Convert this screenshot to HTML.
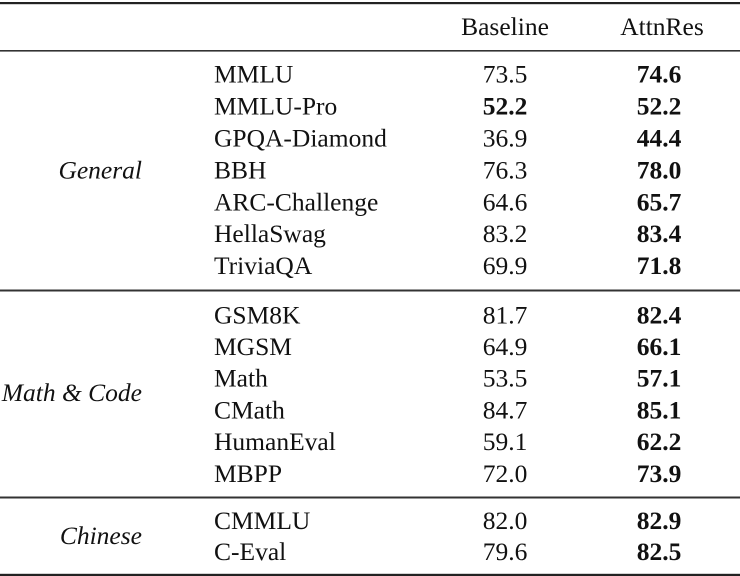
<!DOCTYPE html>
<html><head><meta charset="utf-8"><style>
html,body{margin:0;padding:0;background:#fff;}
svg{display:block;}
text{font-family:"Liberation Serif","Times New Roman",serif;font-size:25.5px;fill:#111;}
.b{font-weight:bold;}
.i{font-style:italic;}
.c{text-anchor:middle;}
.r{text-anchor:end;}
</style></head><body>
<svg width="740" height="576" viewBox="0 0 740 576" xmlns="http://www.w3.org/2000/svg">
<rect x="0" y="2" width="740" height="2.2" fill="#222"/>
<rect x="0" y="50" width="740" height="1.6" fill="#333"/>
<rect x="0" y="289.5" width="740" height="2" fill="#333"/>
<rect x="0" y="496.5" width="740" height="2" fill="#333"/>
<rect x="0" y="573.8" width="740" height="2.2" fill="#222"/>

<text x="505" y="35" class="c">Baseline</text>
<text x="662" y="35" class="c">AttnRes</text>

<text x="142" y="178.4" class="r i">General</text>
<text x="142" y="401" class="r i">Math &amp; Code</text>
<text x="142" y="544" class="r i">Chinese</text>

<text x="214" y="82.7">MMLU</text><text x="505" y="82.7" class="c">73.5</text><text x="659" y="82.7" class="c b">74.6</text>
<text x="214" y="114.6">MMLU-Pro</text><text x="505" y="114.6" class="c b">52.2</text><text x="659" y="114.6" class="c b">52.2</text>
<text x="214" y="146.5">GPQA-Diamond</text><text x="505" y="146.5" class="c">36.9</text><text x="659" y="146.5" class="c b">44.4</text>
<text x="214" y="178.4">BBH</text><text x="505" y="178.4" class="c">76.3</text><text x="659" y="178.4" class="c b">78.0</text>
<text x="214" y="210.3">ARC-Challenge</text><text x="505" y="210.3" class="c">64.6</text><text x="659" y="210.3" class="c b">65.7</text>
<text x="214" y="242.2">HellaSwag</text><text x="505" y="242.2" class="c">83.2</text><text x="659" y="242.2" class="c b">83.4</text>
<text x="214" y="274.1">TriviaQA</text><text x="505" y="274.1" class="c">69.9</text><text x="659" y="274.1" class="c b">71.8</text>

<text x="214" y="323.3">GSM8K</text><text x="505" y="323.3" class="c">81.7</text><text x="659" y="323.3" class="c b">82.4</text>
<text x="214" y="355">MGSM</text><text x="505" y="355" class="c">64.9</text><text x="659" y="355" class="c b">66.1</text>
<text x="214" y="386.7">Math</text><text x="505" y="386.7" class="c">53.5</text><text x="659" y="386.7" class="c b">57.1</text>
<text x="214" y="418.4">CMath</text><text x="505" y="418.4" class="c">84.7</text><text x="659" y="418.4" class="c b">85.1</text>
<text x="214" y="450.1">HumanEval</text><text x="505" y="450.1" class="c">59.1</text><text x="659" y="450.1" class="c b">62.2</text>
<text x="214" y="481.8">MBPP</text><text x="505" y="481.8" class="c">72.0</text><text x="659" y="481.8" class="c b">73.9</text>

<text x="214" y="529">CMMLU</text><text x="505" y="529" class="c">82.0</text><text x="659" y="529" class="c b">82.9</text>
<text x="214" y="560">C-Eval</text><text x="505" y="560" class="c">79.6</text><text x="659" y="560" class="c b">82.5</text>
</svg>
</body></html>
